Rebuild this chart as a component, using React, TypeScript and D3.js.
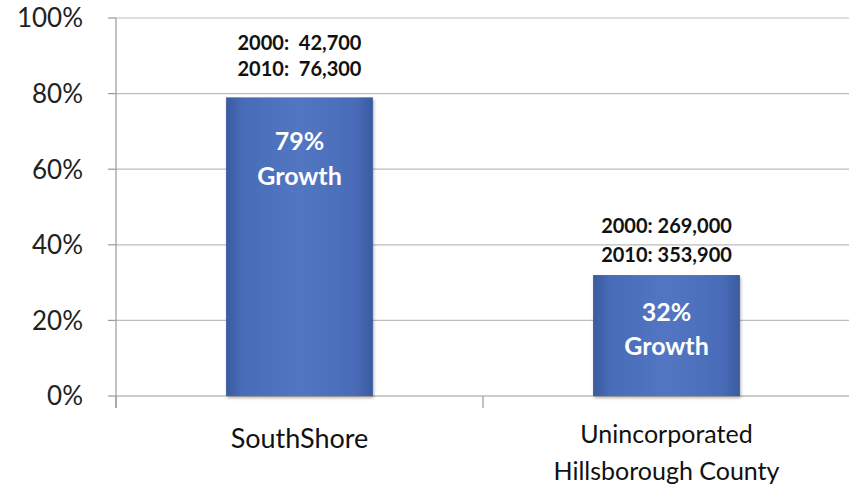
import React from "react";
import * as d3 from "d3";

const categories = ["SouthShore", "Unincorporated Hillsborough County"];
const categoryLines = [["SouthShore"], ["Unincorporated", "Hillsborough County"]];
const growth = [79, 32];
const pop2000 = ["42,700", "269,000"];
const pop2010 = ["76,300", "353,900"];
const yTicks = [0, 20, 40, 60, 80, 100];

const W = 849, H = 491;
const left = 116, right = 849, top = 18, bottom = 396;

export default function App() {
  const x = d3.scaleBand<string>().domain(categories).range([left, left + 2 * 367]).paddingInner(0).paddingOuter(0);
  const y = d3.scaleLinear().domain([0, 100]).range([bottom, top]);
  const bw = x.bandwidth() * 0.4;
  const font = "Lato, 'Open Sans', sans-serif";
  const annY = [[50, 76], [233, 262]];
  const inY = [[53, 88], [46, 80]];
  return (
    <svg width={W} height={H} style={{ position: "absolute", left: 0, top: 0, background: "#fff" }}>
      <defs>
        <linearGradient id="barg" x1="0" x2="1" y1="0" y2="0">
          <stop offset="0" stopColor="#3a5aa0" />
          <stop offset="0.12" stopColor="#4a6cb8" />
          <stop offset="0.5" stopColor="#5276c2" />
          <stop offset="0.88" stopColor="#4a6cb8" />
          <stop offset="1" stopColor="#3a5aa0" />
        </linearGradient>
        <filter id="sh" x="-10%" y="-10%" width="120%" height="120%">
          <feDropShadow dx="1" dy="2" stdDeviation="1.5" floodColor="#000" floodOpacity="0.3" />
        </filter>
      </defs>
      {yTicks.map((t) => (
        <g key={t}>
          {t > 0 && <line x1={left} x2={right} y1={y(t)} y2={y(t)} stroke="#bdbdbd" strokeWidth={1.2} />}
          <line x1={108} x2={left} y1={y(t)} y2={y(t)} stroke="#9a9a9a" strokeWidth={1.2} />
          <text x={83} y={y(t)} dy="0.36em" textAnchor="end" fontFamily={font} fontSize={26} fill="#222">{t}%</text>
        </g>
      ))}
      <line x1={left} x2={left} y1={top} y2={bottom + 12} stroke="#9a9a9a" strokeWidth={1.2} />
      <line x1={left} x2={right} y1={bottom} y2={bottom} stroke="#9a9a9a" strokeWidth={1.2} />
      {[left, left + 367].map((tx) => (
        <line key={tx} x1={tx} x2={tx} y1={bottom} y2={bottom + 12} stroke="#9a9a9a" strokeWidth={1.2} />
      ))}
      {categories.map((c, i) => {
        const cx = (x(c) as number) + x.bandwidth() / 2;
        const yt = y(growth[i]);
        const big = i === 0;
        return (
          <g key={c}>
            <rect x={cx - bw / 2} y={yt} width={bw} height={bottom - yt} fill="url(#barg)" filter="url(#sh)" />
            <text x={cx} y={annY[i][0]} textAnchor="middle" fontFamily={font} fontWeight="bold" fontSize={20} fill="#111" xmlSpace="preserve">{`2000: ${big ? " " : ""}${pop2000[i]}`}</text>
            <text x={cx} y={annY[i][1]} textAnchor="middle" fontFamily={font} fontWeight="bold" fontSize={20} fill="#111" xmlSpace="preserve">{`2010: ${big ? " " : ""}${pop2010[i]}`}</text>
            <text x={cx} y={yt + inY[i][0]} textAnchor="middle" fontFamily={font} fontWeight="bold" fontSize={25} fill="#fff">{growth[i]}%</text>
            <text x={cx} y={yt + inY[i][1]} textAnchor="middle" fontFamily={font} fontWeight="bold" fontSize={25} fill="#fff">Growth</text>
            {categoryLines[i].map((ln, j) => (
              <text key={j} x={cx} y={categoryLines[i].length === 1 ? 448 : 443 + j * 37} textAnchor="middle" fontFamily={font} fontSize={categoryLines[i].length === 1 ? 27 : 25} fill="#111">{ln}</text>
            ))}
          </g>
        );
      })}
    </svg>
  );
}
